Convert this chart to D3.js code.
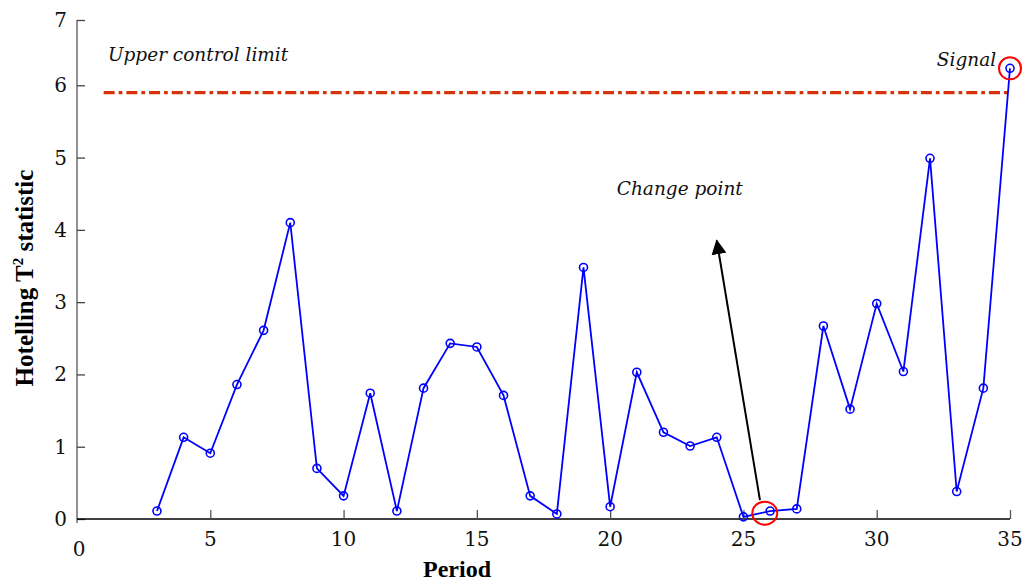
<!DOCTYPE html>
<html>
<head>
<meta charset="utf-8">
<script src="https://cdn.jsdelivr.net/npm/d3@7"></script>
<style>
  html, body { margin: 0; padding: 0; background: #fff; }
  svg { display: block; }
</style>
</head>
<body>
<svg id="chart" width="1030" height="583"></svg>
<script>
// data
var periods = [3,4,5,6,7,8,9,10,11,12,13,14,15,16,17,18,19,20,21,22,23,24,25,26,27,28,29,30,31,32,33,34,35];
var t2_values = [0.11,1.13,0.91,1.86,2.61,4.10,0.70,0.32,1.74,0.11,1.81,2.43,2.38,1.71,0.32,0.07,3.48,0.17,2.03,1.20,1.01,1.13,0.03,0.11,0.14,2.67,1.52,2.98,2.04,4.99,0.38,1.81,6.26];
var ucl_value = 5.9;
var ucl_span = [1, 35];
var x_ticks = [5,10,15,20,25,30,35];
var y_ticks = [0,1,2,3,4,5,6,7];

// annotations (in data units)
var labels = [
  {text: "Upper control limit", x: 1.16, y: 6.37, anchor: "start"},
  {text: "Signal", x: 34.48, y: 6.3, anchor: "end"},
  {text: "Change point", x: 20.25, y: 4.48, anchor: "start"}
];
var marked = [{x: 25.8, y: 0.08, rx: 12.5, ry: 11.5}, {x: 35, y: 6.26, rx: 11, ry: 11}];
var arrow = {x1: 25.62, y1: 0.26, x2: 24.0, y2: 3.85};

// regular/italic Liberation Serif falls back to sans here, so DejaVu Serif for those
const FONT = "'DejaVu Serif', serif";
const FONT_BOLD = "'Liberation Serif', serif";
const margin = {left: 77, right: 1010, top: 20, bottom: 519};
const graph_x = d3.scaleLinear().domain([0, 35]).range([margin.left, margin.right]);
// the top tick sits a little closer in the original figure
const graph_y = d3.scaleLinear().domain([0, 6, 7]).range([margin.bottom, 85.3, margin.top]);

const svg = d3.select("#chart");

// arrow head
svg.append("defs").append("marker")
  .attr("id", "head")
  .attr("viewBox", "0 0 10 10")
  .attr("refX", 9).attr("refY", 5)
  .attr("markerWidth", 15).attr("markerHeight", 15)
  .attr("markerUnits", "userSpaceOnUse")
  .attr("orient", "auto")
  .append("path").attr("d", "M0,0 L10,5 L0,10 z").attr("fill", "#000");

// y axis
const y_axis = svg.append("g").attr("transform", "translate(" + margin.left + ",0)")
  .call(d3.axisRight(graph_y).tickValues(y_ticks).tickSize(8).tickFormat(""));
y_axis.select(".domain").attr("stroke", "#777").attr("stroke-width", 1.6)
  .attr("d", "M0," + graph_y(7) + "V" + (margin.bottom + 4));
y_axis.selectAll(".tick line").attr("stroke", "#444").attr("stroke-width", 1.3);
svg.append("g").selectAll("text").data(y_ticks).join("text")
  .attr("x", 67).attr("y", function(d){ return graph_y(d) + 7; })
  .attr("text-anchor", "end").attr("font-family", FONT).attr("font-size", 20).attr("fill", "#111")
  .text(function(d){ return d; });

// x axis
const x_axis = svg.append("g").attr("transform", "translate(0," + margin.bottom + ")")
  .call(d3.axisTop(graph_x).tickValues(x_ticks).tickSize(9).tickFormat(""));
x_axis.select(".domain").attr("stroke", "#000").attr("stroke-width", 1.6)
  .attr("d", "M" + margin.left + ",0H" + margin.right);
x_axis.selectAll(".tick line").attr("stroke", "#555").attr("stroke-width", 1.3);
svg.append("g").selectAll("text").data(x_ticks).join("text")
  .attr("x", function(d){ return graph_x(d); }).attr("y", 546)
  .attr("text-anchor", "middle").attr("font-family", FONT).attr("font-size", 20).attr("fill", "#111")
  .text(function(d){ return d; });
svg.append("text").attr("x", graph_x(0) + 2).attr("y", 556)
  .attr("text-anchor", "middle").attr("font-family", FONT).attr("font-size", 20).attr("fill", "#111").text("0");

// axis titles
svg.append("text").attr("x", 457).attr("y", 577)
  .attr("text-anchor", "middle").attr("font-family", FONT_BOLD).attr("font-size", 24)
  .attr("font-weight", "bold").text("Period");
const ylab = svg.append("text").attr("transform", "translate(33,278) rotate(-90)")
  .attr("text-anchor", "middle").attr("font-family", FONT_BOLD).attr("font-size", 25).attr("font-weight", "bold");
ylab.append("tspan").text("Hotelling T");
ylab.append("tspan").attr("font-size", 15).attr("dy", -10).text("2");
ylab.append("tspan").attr("dy", 10).text(" statistic");

// upper control limit
svg.append("line")
  .attr("x1", graph_x(ucl_span[0])).attr("x2", graph_x(ucl_span[1]))
  .attr("y1", graph_y(ucl_value)).attr("y2", graph_y(ucl_value))
  .attr("stroke", "#d4330c").attr("stroke-width", 3.2)
  .attr("stroke-dasharray", "11 4 3.7 4");

// series
const line = d3.line().x(function(d){ return graph_x(d[0]); }).y(function(d){ return graph_y(d[1]); });
const pts = d3.zip(periods, t2_values);
svg.append("path").datum(pts).attr("d", line)
  .attr("fill", "none").attr("stroke", "#0000ff").attr("stroke-width", 1.8);
svg.append("g").selectAll("circle").data(pts).join("circle")
  .attr("cx", function(d){ return graph_x(d[0]); }).attr("cy", function(d){ return graph_y(d[1]); })
  .attr("r", 4).attr("fill", "none").attr("stroke", "#0000ff").attr("stroke-width", 1.6);

// arrow and highlighted points
svg.append("line")
  .attr("x1", graph_x(arrow.x1)).attr("y1", graph_y(arrow.y1))
  .attr("x2", graph_x(arrow.x2)).attr("y2", graph_y(arrow.y2))
  .attr("stroke", "#000").attr("stroke-width", 2).attr("marker-end", "url(#head)");
svg.append("g").selectAll("ellipse").data(marked).join("ellipse")
  .attr("cx", function(d){ return graph_x(d.x); }).attr("cy", function(d){ return graph_y(d.y); })
  .attr("rx", function(d){ return d.rx; }).attr("ry", function(d){ return d.ry; })
  .attr("fill", "none").attr("stroke", "#ff0000").attr("stroke-width", 2);

svg.append("g").selectAll("text").data(labels).join("text")
  .attr("x", function(d){ return graph_x(d.x); }).attr("y", function(d){ return graph_y(d.y); })
  .attr("text-anchor", function(d){ return d.anchor; })
  .attr("font-family", FONT).attr("font-size", 18.5).attr("font-style", "italic").attr("fill", "#111")
  .text(function(d){ return d.text; });
</script>
</body>
</html>
